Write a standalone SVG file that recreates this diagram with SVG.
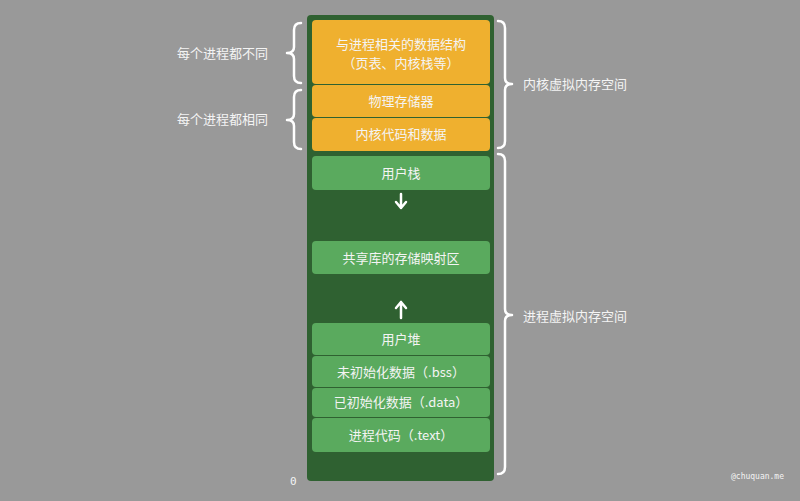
<svg xmlns="http://www.w3.org/2000/svg" width="800" height="501" viewBox="0 0 800 501">
<style>
  text { font-family: "Noto Sans CJK SC", "Noto Sans", sans-serif; fill: #f4f4f4; font-size: 13px; dominant-baseline: central; }
  .c { text-anchor: middle; }
  .org { fill: #efb02f; }
  .grn { fill: #5aaa5e; }
  .brace { fill: none; stroke: #ffffff; stroke-width: 2.5; stroke-linecap: round; stroke-linejoin: round; }
  .arr { fill: none; stroke: #ffffff; stroke-width: 2.5; stroke-linecap: round; stroke-linejoin: round; }
</style>
<rect width="800" height="501" fill="#999999"/>
<rect x="307" y="15" width="187" height="466" rx="4" fill="#2f6131"/>
<g id="n-kernel-ds"><rect class="org" x="312" y="20" width="178" height="64" rx="4"/><text class="c" x="401" y="43">与进程相关的数据结构</text><text class="c" x="401" y="62">（页表、内核栈等）</text></g>
<g id="n-phys"><rect class="org" x="312" y="85" width="178" height="32" rx="4"/><text class="c" x="401" y="100">物理存储器</text></g>
<g id="n-kcode"><rect class="org" x="312" y="118" width="178" height="33" rx="4"/><text class="c" x="401" y="133">内核代码和数据</text></g>
<g id="n-ustack"><rect class="grn" x="312" y="156" width="178" height="34" rx="4"/><text class="c" x="401" y="172">用户栈</text></g>
<g id="n-shared"><rect class="grn" x="312" y="241" width="178" height="33" rx="4"/><text class="c" x="401" y="257">共享库的存储映射区</text></g>
<g id="n-heap"><rect class="grn" x="312" y="323" width="178" height="32" rx="4"/><text class="c" x="401" y="338">用户堆</text></g>
<g id="n-bss"><rect class="grn" x="312" y="356" width="178" height="31" rx="4"/><text class="c" x="401" y="371">未初始化数据（.bss）</text></g>
<g id="n-data"><rect class="grn" x="312" y="388" width="178" height="29" rx="4"/><text class="c" x="401" y="401">已初始化数据（.data）</text></g>
<g id="n-text"><rect class="grn" x="312" y="418" width="178" height="34" rx="4"/><text class="c" x="401" y="434">进程代码（.text）</text></g>
<g id="connectors">
  <path class="arr" d="M401,194 L401,208 M396,202 L401,208 L406,202"/>
  <path class="arr" d="M401,318 L401,302 M396,308 L401,302 L406,308"/>
  <path class="brace" d="M301,23 Q294,23 294,30 L294,47 Q294,53 287,53 Q294,53 294,59 L294,76 Q294,83 301,83"/>
  <path class="brace" d="M301,90 Q294,90 294,97 L294,114 Q294,120 287,120 Q294,120 294,126 L294,142 Q294,149 301,149"/>
  <path class="brace" d="M498,21 Q505,21 505,28 L505,78 Q505,84 512,84 Q505,84 505,90 L505,141 Q505,148 498,148"/>
  <path class="brace" d="M498,154 Q505,154 505,161 L505,309 Q505,315 512,315 Q505,315 505,321 L505,467 Q505,474 498,474"/>
</g>
<text x="177" y="52">每个进程都不同</text>
<text x="177" y="118">每个进程都相同</text>
<text x="523" y="83">内核虚拟内存空间</text>
<text x="523" y="315">进程虚拟内存空间</text>
<text x="290" y="481" style="font-family:'DejaVu Sans Mono',monospace;font-size:11px">0</text>
<text x="731" y="476" style="font-family:'DejaVu Sans Mono',monospace;font-size:8px">@chuquan.me</text>
</svg>
